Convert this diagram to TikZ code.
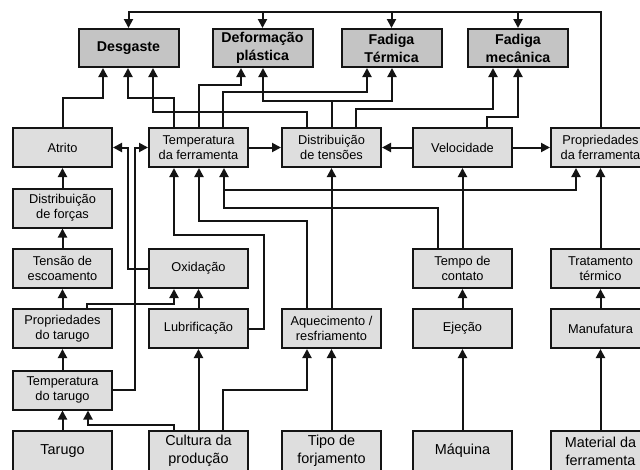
\documentclass[tikz,border=0pt]{standalone}
\usepackage{fontspec}
\setmainfont{Liberation Sans}
\usetikzlibrary{arrows.meta}

\definecolor{effectgray}{RGB}{196,196,196}
\definecolor{boxgray}{RGB}{222,222,222}
\definecolor{linegray}{RGB}{20,20,20}

\begin{document}
\begin{tikzpicture}[x=1pt, y=-1pt,
  box/.style={draw=linegray, line width=2pt, fill=boxgray, minimum width=99pt, minimum height=39pt,
    inner sep=0pt, align=center, font=\fontsize{12.8}{15}\selectfont},
  effect/.style={box, fill=effectgray, minimum width=100pt, minimum height=38pt, font=\fontsize{14.2}{18}\selectfont\bfseries},
  source/.style={box, minimum height=40pt, font=\fontsize{14.4}{18}\selectfont},
  arr/.style={draw=linegray, line width=2pt, -{Triangle[length=9pt, width=9pt]}}]
  \useasboundingbox (0,0) rectangle (640,469);
  \clip (0,0) rectangle (640,469);
  \fill[white] (0,0) rectangle (640,469);

  % Effects
  \node[effect] (desg) at (128.5,48) {Desgaste};
  \node[effect] (deform) at (262.5,48) {Deformação\\plástica};
  \node[effect] (ftherm) at (391.5,48) {Fadiga\\Térmica};
  \node[effect] (fmech) at (518,48) {Fadiga\\mecânica};

  % Middle rows
  \node[box] (atrito) at (62.5,147.5) {Atrito};
  \node[box] (tferr) at (198.5,147.5) {Temperatura\\da ferramenta};
  \node[box] (dtens) at (331.5,147.5) {Distribuição\\de tensões};
  \node[box] (veloc) at (462.5,147.5) {Velocidade};
  \node[box] (pferr) at (600.5,147.5) {Propriedades\\da ferramenta};
  \node[box] (dforcas) at (62.5,208) {Distribuição\\de forças};
  \node[box] (tescoam) at (62.5,268.5) {Tensão de\\escoamento};
  \node[box] (oxid) at (198.5,268.5) {Oxidação};
  \node[box] (tcont) at (462.5,268.5) {Tempo de\\contato};
  \node[box] (trat) at (600.5,268.5) {Tratamento\\térmico};
  \node[box] (ptarugo) at (62.5,328.5) {Propriedades\\do tarugo};
  \node[box] (lubr) at (198.5,328.5) {Lubrificação};
  \node[box] (aquec) at (331.5,328.5) {Aquecimento /\\resfriamento};
  \node[box] (ejec) at (462.5,328.5) {Ejeção};
  \node[box] (manuf) at (600.5,328.5) {Manufatura};
  \node[box] (ttarugo) at (62.5,390) {Temperatura\\do tarugo};

  % Sources
  \node[source] (tarugo) at (62.5,451) {Tarugo};
  \node[source] (cultura) at (198.5,451) {Cultura da\\produção};
  \node[source] (tipo) at (331.5,451) {Tipo de\\forjamento};
  \node[source] (maquina) at (462.5,451) {Máquina};
  \node[source] (material) at (600.5,451) {Material da\\ferramenta};

  % Top bus from tool properties
  \coordinate (bus) at (600,12);
  \draw[arr] (pferr.north) -- (pferr.north |- bus) -- (desg.north |- bus) -- (desg.north);
  \foreach \n in {deform, ftherm, fmech}
    \draw[arr] (\n.north |- bus) -- (\n.north);

  % Into the effects
  \draw[arr] (atrito.north) |- (103,98) -- (desg.south -| 103,0);
  \draw[arr] (tferr.north -| 174,0) |- (128,98) -- (desg.south -| 128,0);
  \draw[arr] (dtens.north -| 307,0) |- (153,112) -- (desg.south -| 153,0);
  \draw[arr] (tferr.north -| 199,0) |- (241,85) -- (deform.south -| 241,0);
  \draw[arr] (tferr.north -| 223,0) |- (367,92) -- (ftherm.south -| 367,0);
  \draw[arr] (dtens.north) |- (263,101) -- (deform.south -| 263,0);
  \draw[arr] (dtens.north) |- (392,101) -- (ftherm.south -| 392,0);
  \draw[arr] (dtens.north -| 356,0) |- (493,109) -- (fmech.south -| 493,0);
  \draw[arr] (veloc.north -| 487,0) |- (518,117) -- (fmech.south -| 518,0);

  % Middle row
  \draw[arr] (tferr.east) -- (dtens.west);
  \draw[arr] (veloc.west) -- (dtens.east);
  \draw[arr] (veloc.east) -- (pferr.west);
  \draw[arr] (oxid.west) -- (128,268.5) |- (atrito.east);
  \draw[arr] (ttarugo.east) -- (135,390) |- (tferr.west);

  % Into tool temperature and tool properties
  \draw[arr] (lubr.east) -- (264,328.5) |- (174,235) -- (tferr.south -| 174,0);
  \draw[arr] (aquec.north -| 307,0) |- (199,221) -- (tferr.south -| 199,0);
  \draw[arr] (tcont.north -| 438,0) |- (224,208) -- (tferr.south -| 224,0);
  \draw[arr] (tcont.north -| 438,0) |- (224,208) |- (576,190) -- (pferr.south -| 576,0);
  \draw[arr] (tcont.north) -- (veloc.south);
  \draw[arr] (aquec.north) -- (dtens.south);
  \draw[arr] (trat.north) -- (pferr.south);

  % Billet column
  \draw[arr] (dforcas.north) -- (atrito.south);
  \draw[arr] (tescoam.north) -- (dforcas.south);
  \draw[arr] (ptarugo.north) -- (tescoam.south);
  \draw[arr] (ttarugo.north) -- (ptarugo.south);
  \draw[arr] (tarugo.north) -- (ttarugo.south);
  \draw[arr] (ptarugo.north -| 87,0) |- (174,304) -- (oxid.south -| 174,0);
  \draw[arr] (lubr.north) -- (oxid.south);

  % From the sources
  \draw[arr] (cultura.north) -- (lubr.south);
  \draw[arr] (cultura.north -| 174,0) |- (88,425) -- (ttarugo.south -| 88,0);
  \draw[arr] (cultura.north -| 223,0) |- (307,390) -- (aquec.south -| 307,0);
  \draw[arr] (tipo.north) -- (aquec.south);
  \draw[arr] (maquina.north) -- (ejec.south);
  \draw[arr] (ejec.north) -- (tcont.south);
  \draw[arr] (material.north) -- (manuf.south);
  \draw[arr] (manuf.north) -- (trat.south);
\end{tikzpicture}
\end{document}
